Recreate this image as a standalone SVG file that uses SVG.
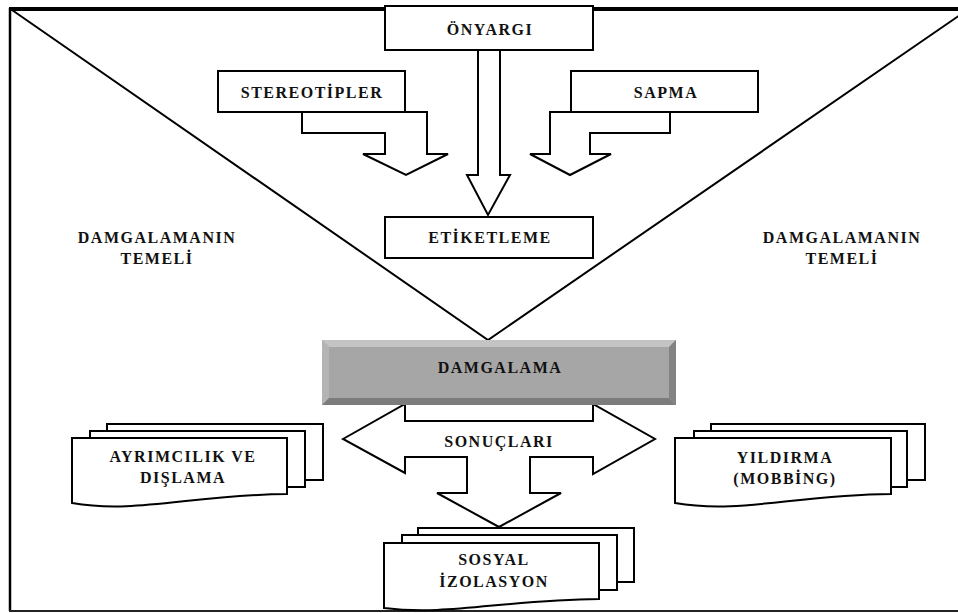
<svg xmlns="http://www.w3.org/2000/svg" width="958" height="613" viewBox="0 0 958 613">
<style>
.box{fill:#fff;stroke:#000;stroke-width:2}
.arr{fill:#fff;stroke:#000;stroke-width:2;stroke-linejoin:miter}
.ln{fill:none;stroke:#000;stroke-width:2}
.t{font-family:"Liberation Serif","Times New Roman",serif;font-weight:bold;font-size:16px;letter-spacing:1.5px;fill:#111;text-anchor:middle}
</style>
<rect width="958" height="613" fill="#fff"/>
<g id="frame">
<line x1="9" y1="9" x2="958" y2="9" stroke="#000" stroke-width="4"/>
<line x1="10" y1="8" x2="10" y2="611" stroke="#000" stroke-width="2.5"/>
<line x1="9" y1="611" x2="958" y2="611" stroke="#222" stroke-width="2"/>
<polyline class="ln" points="12,10 488,340 960,15"/>
</g>
<g id="connectors">
<polygon class="arr" points="478,50 500,50 500,175 510,175 488,215 467,175 478,175"/>
<polygon class="arr" points="302,112 427,112 427,154 448,154 406,175 363,154 385,154 385,133 302,133"/>
<polygon class="arr" points="550,112 670,112 670,133 590,133 590,154 611,154 570,175 530,154 550,154"/>
<polygon class="arr" points="343,439 405,404 405,421 593,421 593,404 655,439 593,474 593,457 530,457 530,493 561,493 499,527 437,493 467,493 467,457 405,457 405,473"/>
</g>
<g id="onyargi">
<rect class="box" x="385" y="6" width="208" height="44"/>
<text class="t" x="490" y="35">ÖNYARGI</text>
</g>
<g id="stereotipler">
<rect class="box" x="218" y="71" width="187" height="41"/>
<text class="t" x="312" y="98">STEREOTİPLER</text>
</g>
<g id="sapma">
<rect class="box" x="571" y="71" width="187" height="41"/>
<text class="t" x="666" y="98">SAPMA</text>
</g>
<g id="etiketleme">
<rect class="box" x="385" y="217" width="208" height="41"/>
<text class="t" x="490" y="243">ETİKETLEME</text>
</g>
<g id="temel-sol">
<text class="t" x="157" y="243">DAMGALAMANIN</text>
<text class="t" x="157" y="264">TEMELİ</text>
</g>
<g id="temel-sag">
<text class="t" x="842" y="243">DAMGALAMANIN</text>
<text class="t" x="842" y="264">TEMELİ</text>
</g>
<g id="damgalama">
<rect x="322" y="340" width="354" height="65" fill="#a6a6a6"/>
<polygon points="322,340 676,340 669,347 329,347" fill="#c4c4c4"/>
<polygon points="322,340 329,347 329,398 322,405" fill="#b4b4b4"/>
<polygon points="322,405 329,398 669,398 676,405" fill="#7c7c7c"/>
<polygon points="676,340 676,405 669,398 669,347" fill="#838383"/>
<text class="t" x="500" y="373">DAMGALAMA</text>
</g>
<g id="sonuclari">
<text class="t" x="499" y="447">SONUÇLARI</text>
</g>
<g id="ayrimcilik">
<rect class="box" x="107" y="424" width="216" height="56"/>
<rect class="box" x="90" y="431" width="215" height="56"/>
<path class="box" d="M72,438 H287 V494 C190,495 136,514 72,503 Z"/>
<text class="t" x="183" y="462">AYRIMCILIK VE</text>
<text class="t" x="183" y="483">DIŞLAMA</text>
</g>
<g id="yildirma">
<rect class="box" x="711" y="424" width="214" height="56"/>
<rect class="box" x="694" y="431" width="213" height="56"/>
<path class="box" d="M675,438 H891 V494 C794,495 740,514 675,503 Z"/>
<text class="t" x="785" y="463">YILDIRMA</text>
<text class="t" x="785" y="484">(MOBBİNG)</text>
</g>
<g id="sosyal">
<rect class="box" x="418" y="528" width="216" height="54"/>
<rect class="box" x="402" y="535" width="215" height="55"/>
<path class="box" d="M384,543 H599 V599 C502,600 448,616 384,608 Z"/>
<text class="t" x="494" y="565">SOSYAL</text>
<text class="t" x="494" y="587">İZOLASYON</text>
</g>
</svg>
